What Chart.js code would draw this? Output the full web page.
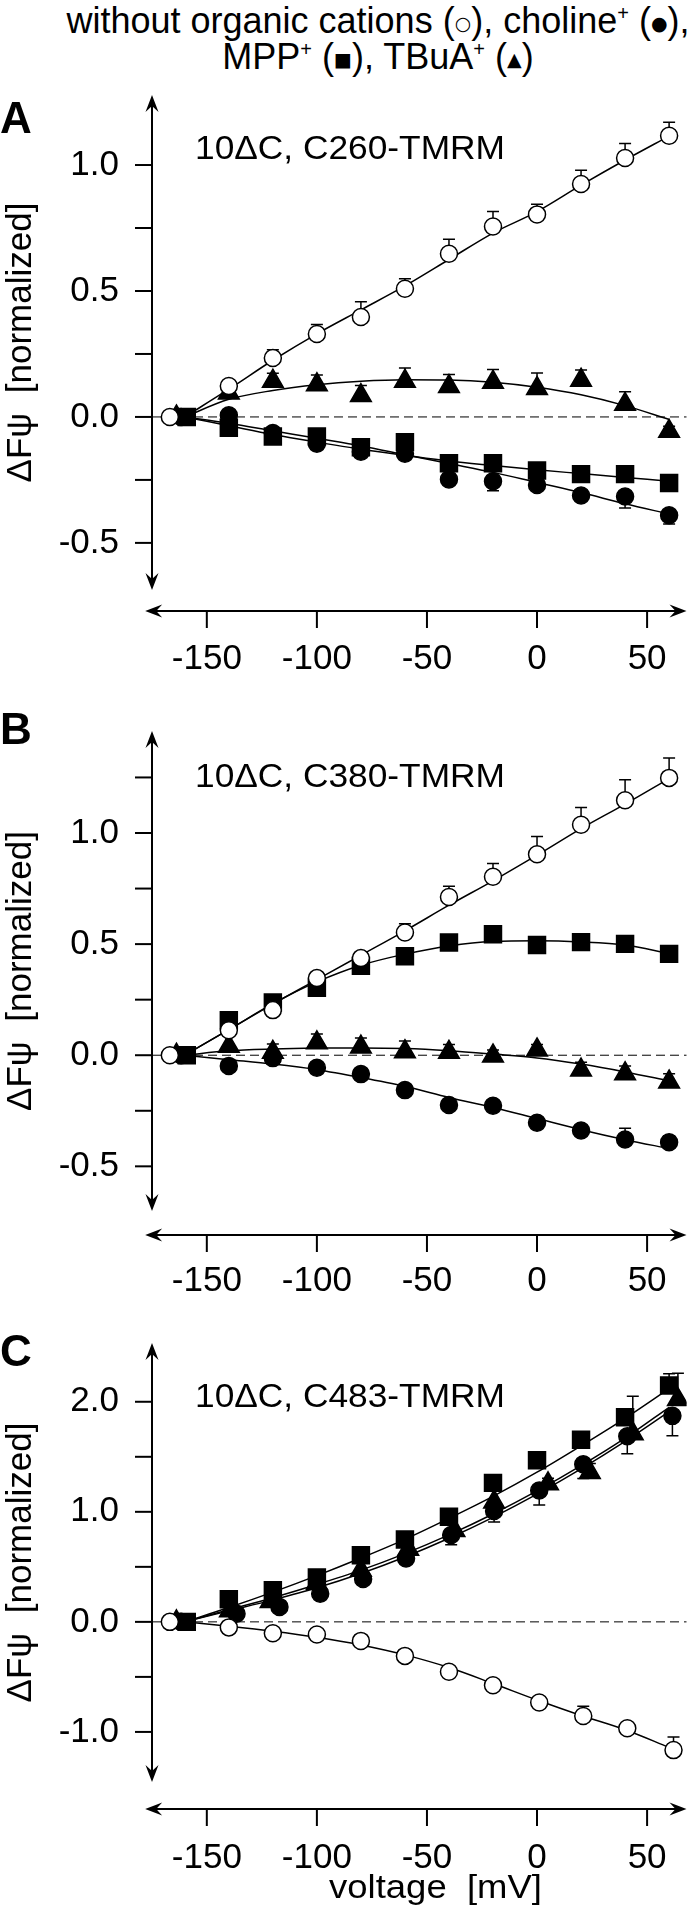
<!DOCTYPE html>
<html>
<head>
<meta charset="utf-8">
<script src="https://cdn.jsdelivr.net/npm/chart.js@4/dist/chart.umd.min.js"></script>
<style>
  body { margin: 0; background: #fff; width: 700px; height: 1913px; position: relative; overflow: hidden;
         font-family: "Liberation Sans", Arial, sans-serif; color: #000; }
  #head { position: absolute; left: 0; top: 4px; width: 756px; text-align: center; font-size: 36px; line-height: 34px; }
  #head sup { font-size: 20px; line-height: 0; vertical-align: 13px; }
  #head .sym { font-family: "DejaVu Sans"; font-size: 19px; vertical-align: 3px; }
  canvas { position: absolute; left: 0; }
</style>
</head>
<body>
<div id="head">without organic cations (<span class="sym">○</span>), choline<sup>+</sup> (<span class="sym">●</span>),<br>MPP<sup>+</sup> (<span class="sym">■</span>), TBuA<sup>+</sup> (<span class="sym">▲</span>)</div>
<canvas id="chartA" width="700" height="620" style="top:80px"></canvas>
<canvas id="chartB" width="700" height="620" style="top:700px"></canvas>
<canvas id="chartC" width="700" height="593" style="top:1320px"></canvas>
<script>
// voltage steps (mV) and where each symbol sits (first point is spread out in the figure)
const voltage  = [-160, -140, -120, -100, -80, -60, -40, -20, 0, 20, 40, 60];
const xOpen    = [-166.8, -140, -120, -100, -80, -60, -40, -20, 0, 20, 40, 60];
const xTbua    = [-163.8, -140, -120, -100, -80, -60, -40, -20, 0, 20, 40, 60];
const xCholine = [-161.7, -140, -120, -100, -80, -60, -40, -20, 0, 20, 40, 60];
const xMpp     = [-159.1, -140, -120, -100, -80, -60, -40, -20, 0, 20, 40, 60];
// panel C symbols are shifted a little more
const xOpenC    = [-166.8, -140, -120, -100, -80, -60, -40, -20, 1, 21, 41, 62];
const xCholineC = [-161.7, -136.5, -117, -98.5, -79, -59.5, -39, -19.5, 1, 21, 41, 61.5];
const xTbuaC    = [-163.8, -139.5, -121, -100, -80, -58.5, -37.5, -19.5, 5, 24, 43.5, 64];
const xMppC     = [-159.1, -140, -120, -100, -80, -60, -40, -20, 0, 20, 40, 60];

const xTickVals = [-150, -100, -50, 0, 50];

// Panel A: 10ΔC, C260-TMRM
const aOpen       = [0, 0.123, 0.234, 0.329, 0.397, 0.509, 0.648, 0.756, 0.804, 0.925, 1.028, 1.116];
const aOpenErr    = [0, 0, 0.033, 0.038, 0.06, 0.04, 0.057, 0.06, 0.04, 0.054, 0.057, 0.054];
const aOpenFit    = [0, 0.11, 0.225, 0.33, 0.425, 0.52, 0.625, 0.73, 0.815, 0.92, 1.02, 1.115];
const aCholine    = [0, 0.007, -0.064, -0.106, -0.138, -0.146, -0.248, -0.255, -0.27, -0.312, -0.316, -0.39];
const aCholineErr = [0, 0.02, 0, 0, 0, 0, 0, 0.038, 0, 0, 0.045, 0.035];
const aCholineFit = [0, -0.025, -0.055, -0.085, -0.115, -0.15, -0.185, -0.22, -0.26, -0.3, -0.345, -0.385];
const aMpp        = [0, -0.043, -0.078, -0.078, -0.12, -0.1, -0.184, -0.184, -0.213, -0.227, -0.227, -0.262];
const aMppFit     = [0, -0.035, -0.07, -0.1, -0.128, -0.152, -0.175, -0.193, -0.21, -0.225, -0.24, -0.255];
const aTbua       = [0, 0.095, 0.142, 0.128, 0.085, 0.142, 0.121, 0.138, 0.113, 0.146, 0.05, -0.057];
const aTbuaErr    = [0, 0, 0.031, 0.038, 0.04, 0.052, 0.047, 0.05, 0.061, 0.04, 0.05, 0.02];
const aTbuaFit    = [0, 0.07, 0.105, 0.128, 0.142, 0.148, 0.147, 0.138, 0.118, 0.088, 0.045, -0.01];

// Panel B: 10ΔC, C380-TMRM
const bOpen       = [0, 0.112, 0.203, 0.347, 0.437, 0.552, 0.712, 0.803, 0.904, 1.037, 1.147, 1.248];
const bOpenErr    = [0, 0, 0, 0, 0.027, 0.04, 0.048, 0.06, 0.08, 0.078, 0.093, 0.09];
const bOpenFit    = [0, 0.115, 0.23, 0.34, 0.45, 0.56, 0.675, 0.785, 0.9, 1.02, 1.13, 1.245];
const bMpp        = [0, 0.157, 0.237, 0.304, 0.403, 0.445, 0.507, 0.544, 0.496, 0.509, 0.501, 0.456];
const bMppFit     = [0, 0.115, 0.232, 0.33, 0.405, 0.455, 0.492, 0.512, 0.515, 0.51, 0.496, 0.458];
const bTbua       = [0, 0.04, 0.013, 0.056, 0.037, 0.016, 0.013, -0.003, 0.024, -0.067, -0.083, -0.12];
const bTbuaErr    = [0, 0, 0.038, 0.04, 0.04, 0.048, 0.035, 0.027, 0.024, 0.035, 0.035, 0.037];
const bTbuaFit    = [0, 0.02, 0.028, 0.032, 0.033, 0.03, 0.02, 0.005, -0.012, -0.04, -0.075, -0.115];
const bCholine    = [0, -0.048, -0.013, -0.056, -0.085, -0.157, -0.224, -0.227, -0.304, -0.339, -0.379, -0.392];
const bCholineErr = [0, 0, 0, 0, 0, 0, 0, 0, 0, 0, 0.05, 0.03];
const bCholineFit = [0, -0.02, -0.04, -0.065, -0.1, -0.14, -0.19, -0.235, -0.285, -0.335, -0.38, -0.42];

// Panel C: 10ΔC, C483-TMRM
const cMpp        = [0, 0.206, 0.288, 0.403, 0.605, 0.749, 0.955, 1.263, 1.469, 1.654, 1.86, 2.148];
const cMppErr     = [0, 0, 0, 0, 0, 0, 0, 0, 0, 0.03, 0.07, 0.107];
const cMppFit     = [0, 0.13, 0.27, 0.42, 0.58, 0.75, 0.94, 1.14, 1.36, 1.6, 1.85, 2.12];
const cTbua       = [0, 0.1, 0.185, 0.35, 0.47, 0.66, 0.83, 1.09, 1.255, 1.358, 1.71, 2.02];
const cTbuaErr    = [0, 0, 0, 0, 0, 0, 0, 0, 0.05, 0.08, 0.34, 0.24];
const cTbuaFit    = [0, 0.11, 0.22, 0.34, 0.47, 0.62, 0.79, 0.98, 1.19, 1.42, 1.67, 1.95];
const cCholine    = [0, 0.074, 0.136, 0.255, 0.39, 0.576, 0.79, 1.008, 1.193, 1.432, 1.687, 1.872];
const cCholineErr = [0, 0, 0, 0, 0, 0, 0.09, 0.1, 0.13, 0.13, 0.16, 0.18];
const cCholineFit = [0, 0.1, 0.2, 0.31, 0.44, 0.59, 0.76, 0.95, 1.16, 1.39, 1.64, 1.91];
const cOpen       = [0, -0.05, -0.103, -0.115, -0.173, -0.309, -0.453, -0.576, -0.733, -0.856, -0.967, -1.165];
const cOpenErr    = [0, 0, 0, 0, 0, 0, 0, 0, 0, 0.09, 0, 0.12];
const cOpenFit    = [0, -0.04, -0.085, -0.14, -0.21, -0.3, -0.415, -0.56, -0.71, -0.85, -0.98, -1.14];

const FONT = '"Liberation Sans", Arial, sans-serif';

function pts(xs, ys) {
    return xs.map((x, i) => ({ x: x, y: ys[i] }));
}

// symbol styles
const symbols = {
    open:    { pointStyle: 'circle',   pointRadius: 8.5, backgroundColor: '#fff' },
    choline: { pointStyle: 'circle',   pointRadius: 8.5, backgroundColor: '#000' },
    mpp:     { pointStyle: 'rect',     pointRadius: 12,  backgroundColor: '#000' },
    tbua:    { pointStyle: 'triangle', pointRadius: 12,  backgroundColor: '#000' }
};

function markers(kind, xs, ys, err, dir) {
    return Object.assign({
        data: pts(xs, ys), showLine: false, borderColor: '#000', pointBorderWidth: 1.5,
        order: 0, err: err, errDir: dir
    }, symbols[kind]);
}

function fit(ys) {
    return {
        data: pts(voltage, ys), showLine: true, pointRadius: 0, borderColor: '#000',
        borderWidth: 1.5, cubicInterpolationMode: 'monotone', order: 1
    };
}

function arrow(ctx, tx, ty, dx, dy) {
    const px = -dy, py = dx;
    ctx.beginPath();
    ctx.moveTo(tx, ty);
    ctx.lineTo(tx - dx * 17 + px * 6.5, ty - dy * 17 + py * 6.5);
    ctx.lineTo(tx - dx * 11, ty - dy * 11);
    ctx.lineTo(tx - dx * 17 - px * 6.5, ty - dy * 17 - py * 6.5);
    ctx.closePath();
    ctx.fill();
}

// text squeezed/stretched to a given width (the figure's lettering is wide)
function wideText(ctx, text, x, y, width, align) {
    const w = ctx.measureText(text).width;
    ctx.save();
    ctx.translate(align === 'center' ? x - width / 2 : x, y);
    ctx.scale(width / w, 1);
    ctx.textAlign = 'left';
    ctx.fillText(text, 0, 0);
    ctx.restore();
}

// Igor-style detached axes, zero line, error bars and panel captions
const igorAxes = {
    id: 'igorAxes',
    beforeDatasetsDraw(chart, args, o) {
        const { ctx, chartArea: a, scales: { x, y } } = chart;
        ctx.save();
        ctx.strokeStyle = '#000';
        const y0 = y.getPixelForValue(0);
        ctx.lineWidth = 1;
        ctx.setLineDash([9, 5]);
        ctx.beginPath(); ctx.moveTo(a.left, y0); ctx.lineTo(a.right, y0); ctx.stroke();
        ctx.setLineDash([]);
        ctx.lineWidth = 1.5;
        chart.data.datasets.forEach(ds => {
            if (!ds.err) return;
            ds.data.forEach((p, j) => {
                const e = ds.err[j];
                if (!e) return;
                const px = x.getPixelForValue(p.x);
                const py = y.getPixelForValue(p.y);
                const pe = y.getPixelForValue(p.y + ds.errDir * e);
                ctx.beginPath();
                ctx.moveTo(px, py); ctx.lineTo(px, pe);
                ctx.moveTo(px - 6, pe); ctx.lineTo(px + 6, pe);
                ctx.stroke();
            });
        });
        ctx.restore();
    },
    afterDraw(chart, args, o) {
        const { ctx, chartArea: a, scales: { x, y } } = chart;
        ctx.save();
        ctx.strokeStyle = '#000';
        ctx.fillStyle = '#000';
        ctx.lineWidth = 2;
        // y axis
        const ax = a.left;
        ctx.beginPath(); ctx.moveTo(ax, a.top + 8); ctx.lineTo(ax, a.bottom - 8); ctx.stroke();
        arrow(ctx, ax, a.top, 0, -1);
        arrow(ctx, ax, a.bottom, 0, 1);
        o.yTicks.forEach(v => {
            const py = y.getPixelForValue(v);
            ctx.beginPath(); ctx.moveTo(ax - 17, py); ctx.lineTo(ax, py); ctx.stroke();
        });
        // x axis, below the plot
        const ay = a.bottom + o.gap;
        const xl = x.getPixelForValue(o.xStart);
        ctx.beginPath(); ctx.moveTo(xl + 8, ay); ctx.lineTo(a.right - 8, ay); ctx.stroke();
        arrow(ctx, xl, ay, -1, 0);
        arrow(ctx, a.right, ay, 1, 0);
        xTickVals.forEach(v => {
            const px = x.getPixelForValue(v);
            ctx.beginPath(); ctx.moveTo(px, ay); ctx.lineTo(px, ay + 17); ctx.stroke();
        });
        // captions
        ctx.textBaseline = 'alphabetic';
        ctx.textAlign = 'left';
        ctx.font = 'bold 44px ' + FONT;
        ctx.fillText(o.letter, 0, o.letterY);
        ctx.font = '33px ' + FONT;
        wideText(ctx, o.note, 195, o.noteY, 310, 'left');
        if (o.xTitle) {
            ctx.font = '34px ' + FONT;
            wideText(ctx, o.xTitle, 435.5, o.xTitleY, 213, 'center');
        }
        ctx.restore();
    }
};

function panel(id, p) {
    return new Chart(document.getElementById(id), {
        type: 'scatter',
        data: { datasets: p.datasets },
        options: {
            responsive: false,
            animation: false,
            events: [],
            layout: { padding: { top: p.padTop, right: 12.5, left: 0, bottom: 0 } },
            plugins: {
                legend: { display: false },
                tooltip: { enabled: false },
                igorAxes: { yTicks: p.yTicks, gap: p.gap, xStart: -178, letter: p.letter, letterY: p.letterY,
                            note: p.note, noteY: p.noteY, xTitle: p.xTitle, xTitleY: p.xTitleY }
            },
            scales: {
                x: {
                    type: 'linear', min: -174.9, max: 67.9,
                    grid: { display: false }, border: { display: false },
                    ticks: { color: '#000', font: { family: FONT, size: 35 }, padding: p.xPad, maxRotation: 0, autoSkip: false,
                             callback: v => String(v) },
                    afterBuildTicks: s => { s.ticks = xTickVals.map(v => ({ value: v })); },
                    afterFit: s => { s.height = p.xHeight; s.paddingLeft = 0; s.paddingRight = 0; }
                },
                y: {
                    type: 'linear', min: p.yMin, max: p.yMax,
                    grid: { display: false }, border: { display: false },
                    ticks: { color: '#000', font: { family: FONT, size: 35 }, padding: 25, autoSkip: false,
                             callback: v => v.toFixed(1) },
                    afterBuildTicks: s => { s.ticks = p.yLabels.map(v => ({ value: v })); },
                    afterFit: s => { s.width = 152; s.paddingTop = 0; s.paddingBottom = 0; },
                    title: { display: true, text: 'ΔFψ  [normalized]', color: '#000', font: { family: FONT, size: 35 }, padding: { top: 0, bottom: 0 } }
                }
            }
        },
        plugins: [igorAxes]
    });
}

panel('chartA', {
    padTop: 15, xHeight: 110, gap: 21, xPad: 40,
    yMin: -0.687, yMax: 1.278,
    yLabels: [-0.5, 0, 0.5, 1.0],
    yTicks: [-0.5, -0.25, 0, 0.25, 0.5, 0.75, 1.0],
    letter: 'A', letterY: 53, note: '10ΔC, C260-TMRM', noteY: 79,
    datasets: [
        markers('open', xOpen, aOpen, aOpenErr, 1),
        markers('tbua', xTbua, aTbua, aTbuaErr, 1),
        markers('choline', xCholine, aCholine, aCholineErr, -1),
        markers('mpp', xMpp, aMpp, null, 1),
        fit(aOpenFit), fit(aTbuaFit), fit(aCholineFit), fit(aMppFit)
    ]
});

panel('chartB', {
    padTop: 31, xHeight: 109, gap: 24, xPad: 41,
    yMin: -0.701, yMax: 1.459,
    yLabels: [-0.5, 0, 0.5, 1.0],
    yTicks: [-0.5, -0.25, 0, 0.25, 0.5, 0.75, 1.0, 1.25],
    letter: 'B', letterY: 44, note: '10ΔC, C380-TMRM', noteY: 87,
    datasets: [
        markers('open', xOpen, bOpen, bOpenErr, 1),
        markers('tbua', xTbua, bTbua, bTbuaErr, 1),
        markers('choline', xCholine, bCholine, bCholineErr, 1),
        markers('mpp', xMpp, bMpp, null, 1),
        fit(bOpenFit), fit(bTbuaFit), fit(bCholineFit), fit(bMppFit)
    ]
});

panel('chartC', {
    padTop: 23, xHeight: 131, gap: 27, xPad: 47,
    xTitle: 'voltage  [mV]', xTitleY: 578,
    yMin: -1.455, yMax: 2.534,
    yLabels: [-1.0, 0, 1.0, 2.0],
    yTicks: [-1.0, -0.5, 0, 0.5, 1.0, 1.5, 2.0],
    letter: 'C', letterY: 46, note: '10ΔC, C483-TMRM', noteY: 87,
    datasets: [
        markers('open', xOpenC, cOpen, cOpenErr, 1),
        markers('tbua', xTbuaC, cTbua, cTbuaErr, 1),
        markers('choline', xCholineC, cCholine, cCholineErr, -1),
        markers('mpp', xMppC, cMpp, cMppErr, 1),
        fit(cOpenFit), fit(cTbuaFit), fit(cCholineFit), fit(cMppFit)
    ]
});
</script>
</body>
</html>
